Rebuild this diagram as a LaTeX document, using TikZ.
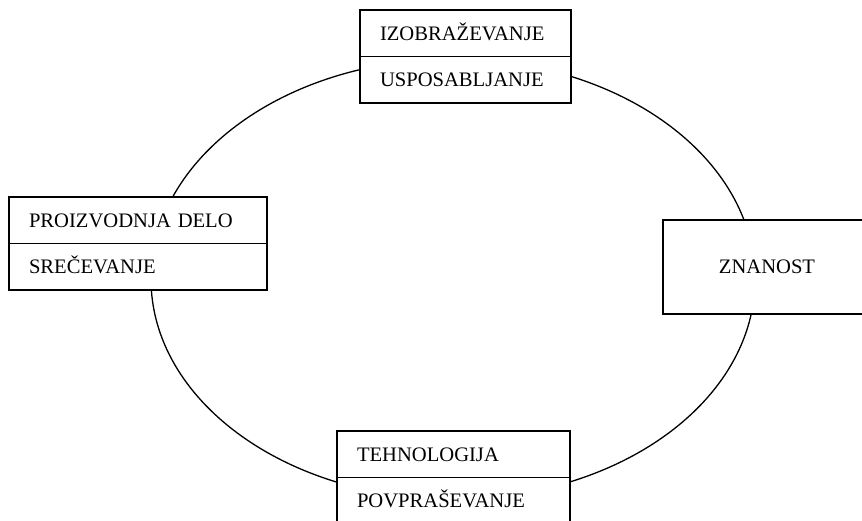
\documentclass[tikz,border=0pt]{standalone}
\usepackage{fontspec}
\setmainfont{Liberation Serif}
\begin{document}
\begin{tikzpicture}[x=1pt,y=-1pt,
  every node/.style={font=\fontsize{20.6}{24}\selectfont},
  cell/.style={draw=black, line width=1.6pt, fill=white, inner xsep=20pt, inner ysep=0pt,
    text height=13.6pt, text depth=0pt, align=left, anchor=center},
  ring/.style={draw=black, line width=1.3pt}]
\useasboundingbox (0,0) rectangle (862,521);
\clip (0,0) rectangle (862,521);
\coordinate (c) at (453,279);
\draw[ring] (c) ellipse [x radius=302pt, y radius=220pt];
% top box
\node[cell, minimum width=211pt, minimum height=46.5pt, text width=171pt] (t1) at (465.5,33.25) {IZOBRAŽEVANJE};
\node[cell, minimum width=211pt, minimum height=46.5pt, text width=171pt] (t2) at (465.5,79.75) {USPOSABLJANJE};
% left box
\node[cell, minimum width=258pt, minimum height=46.5pt, text width=218pt] (l1) at (138,220.25) {PROIZVODNJA DELO};
\node[cell, minimum width=258pt, minimum height=46.5pt, text width=218pt] (l2) at (138,266.75) {SREČEVANJE};
% bottom box
\node[cell, minimum width=233pt, minimum height=46.5pt, text width=193pt] (b1) at (453.5,454.25) {TEHNOLOGIJA};
\node[cell, minimum width=233pt, minimum height=46.5pt, text width=193pt] (b2) at (453.5,500.75) {POVPRAŠEVANJE};
% right box
\node[cell, minimum width=208pt, minimum height=94pt, align=center, inner xsep=0pt] (r) at (767,267) {ZNANOST};
\end{tikzpicture}
\end{document}
